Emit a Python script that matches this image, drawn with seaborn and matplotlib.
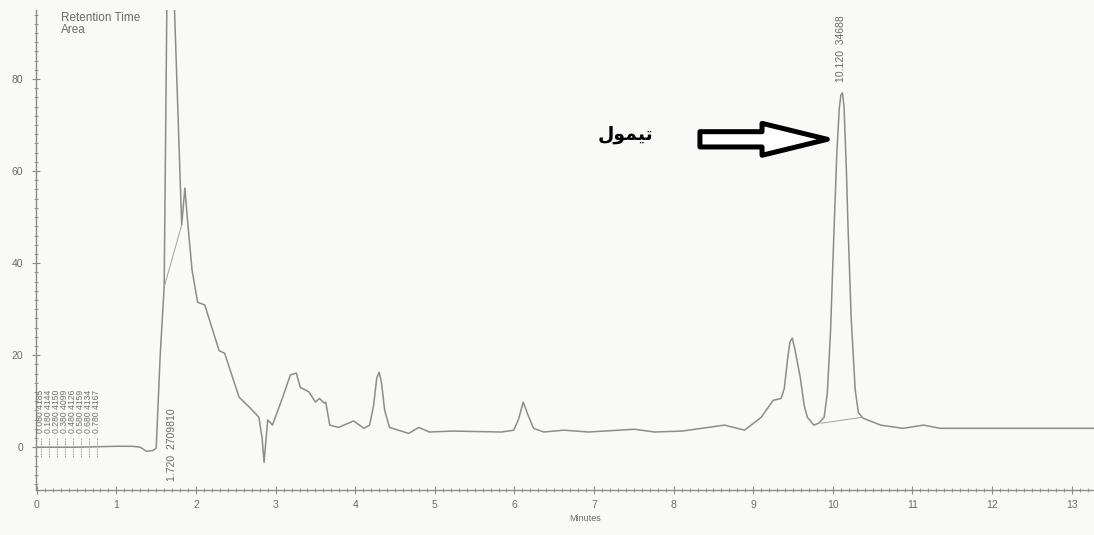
import matplotlib
matplotlib.use("Agg")
import matplotlib.pyplot as plt
from matplotlib.ticker import MultipleLocator
import seaborn as sns
import pandas as pd

# Detector trace (retention time in minutes, signal in mV)
minutes = [0.00, 0.50, 1.00, 1.20, 1.30, 1.38, 1.46, 1.50, 1.55, 1.60,
           1.68, 1.73, 1.82, 1.86, 1.89, 1.95, 2.02, 2.11, 2.29, 2.36,
           2.54, 2.71, 2.79, 2.83, 2.855, 2.90, 2.93, 2.96, 3.09, 3.185,
           3.26, 3.31, 3.42, 3.50, 3.55, 3.61, 3.63, 3.68, 3.79, 3.98,
           4.11, 4.18, 4.23, 4.27, 4.30, 4.33, 4.37, 4.43, 4.67, 4.80,
           4.93, 5.22, 5.84, 5.99, 6.05, 6.11, 6.17, 6.24, 6.37, 6.62,
           6.93, 7.51, 7.76, 8.10, 8.35, 8.64, 8.89, 9.10, 9.25, 9.35,
           9.39, 9.43, 9.46, 9.49, 9.52, 9.59, 9.64, 9.68, 9.76, 9.82,
           9.89, 9.93, 9.97, 10.00, 10.02, 10.05, 10.08, 10.10, 10.12, 10.14,
           10.17, 10.19, 10.23, 10.28, 10.32, 10.38, 10.60, 10.88, 11.14, 11.35,
           12.10, 13.30]
signal = [0.0, 0.0, 0.2, 0.2, 0.0, -0.9, -0.7, -0.2, 20.0, 34.8,
          180.0, 95.0, 48.3, 56.3, 50.0, 38.5, 31.5, 30.9, 21.0, 20.4,
          10.9, 8.0, 6.5, 2.0, -3.3, 5.9, 5.4, 4.8, 10.9, 15.7,
          16.1, 13.0, 12.0, 9.8, 10.6, 9.6, 9.8, 4.8, 4.3, 5.7,
          4.1, 4.8, 9.0, 15.0, 16.3, 14.0, 8.0, 4.3, 3.0, 4.3,
          3.3, 3.5, 3.3, 3.7, 6.0, 9.8, 7.0, 4.1, 3.3, 3.7,
          3.3, 3.9, 3.3, 3.5, 4.1, 4.8, 3.7, 6.5, 10.2, 10.6,
          12.8, 19.0, 22.8, 23.7, 21.5, 15.2, 9.0, 6.5, 4.8, 5.2,
          6.5, 11.7, 25.0, 40.0, 50.0, 64.0, 73.5, 76.5, 77.0, 74.0,
          60.0, 48.0, 28.0, 12.5, 7.5, 6.3, 4.8, 4.1, 4.8, 4.1,
          4.1, 4.1]

# Integration baselines drawn under the integrated peaks
baseline_minutes = [[1.60, 1.82], [9.85, 10.37]]
baseline_signal = [[34.8, 48.3], [5.2, 6.5]]

# Integrated peaks: retention time and area
peak_times = ["1.720", "10.120"]
peak_areas = ["2709810", "34688"]

# Small early events printed near the origin
early_times = ["0.080", "0.180", "0.280", "0.380", "0.480", "0.580", "0.680", "0.780"]
early_areas = ["4185", "4144", "4150", "4099", "4126", "4159", "4134", "4167"]

compound_name = "\uFEDD\uFEEE\uFEE4\uFEF4\uFE97"  # thymol, shaped glyphs in visual order

x_ticks = list(range(0, 14))
y_ticks = [0, 20, 40, 60, 80]

sns.set_theme(style="white")
plt.rcParams["font.family"] = ["Liberation Sans", "DejaVu Sans"]

trace_color = "#8c8c8c"
axis_color = "#8a8a8a"
text_color = "#6a6a6a"

fig = plt.figure(figsize=(10.94, 5.35), dpi=100)
fig.patch.set_facecolor("#f9f9f8")
ax = fig.add_axes([36 / 1094, 45 / 535, 1058 / 1094, 480 / 535])
ax.set_facecolor("#f9f9f8")

df = pd.DataFrame({"Minutes": minutes, "mV": signal})
sns.lineplot(data=df, x="Minutes", y="mV", ax=ax, color=trace_color,
             linewidth=1.1, estimator=None, sort=False)

for bx, by in zip(baseline_minutes, baseline_signal):
    ax.plot(bx, by, color="#a0a0a0", linewidth=0.7)

ax.set_xlim(-0.01, 13.28)
ax.set_ylim(-9.3, 95.0)

for side in ("top", "right"):
    ax.spines[side].set_visible(False)
for side in ("left", "bottom"):
    ax.spines[side].set_color(axis_color)
    ax.spines[side].set_linewidth(1.0)

ax.set_xticks(x_ticks)
ax.set_yticks(y_ticks)
ax.xaxis.set_minor_locator(MultipleLocator(0.1))
ax.yaxis.set_minor_locator(MultipleLocator(2))
ax.tick_params(axis="both", which="major", direction="inout", length=6, width=0.8,
               color=axis_color, labelcolor=text_color, labelsize=7.5)
ax.tick_params(axis="both", which="minor", direction="inout", length=3, width=0.6,
               color=axis_color)
ax.tick_params(axis="y", which="both", left=True, pad=6)
ax.tick_params(axis="x", which="both", bottom=True, pad=4)

ax.set_xlabel("Minutes", fontsize=6.5, color=text_color)
ax.xaxis.set_label_coords(0.519, -0.05)
ax.set_ylabel("")

# Report header
ax.text(0.30, 94.5, "Retention Time\nArea", fontsize=8.5, color=text_color,
        va="top", ha="left", linespacing=0.95)

# Peak annotations (time and area, printed vertically)
for t, a in zip(peak_times, peak_areas):
    y0 = -7.3 if float(t) < 5 else 79.3
    ax.text(float(t) - 0.02, y0, f"{t}  {a}", rotation=90, fontsize=7.5,
            color=text_color, ha="center", va="bottom")

for t, a in zip(early_times, early_areas):
    x = float(t) - 0.03
    ax.text(x, 3.0, f"{t} {a}", rotation=90, fontsize=6.2,
            color="#707070", ha="center", va="bottom")
    ax.vlines(x, -2.2, 2.2, color="#9a9a9a", linewidth=0.6,
              linestyles=(0, (2, 1)))

# Hollow arrow pointing at the thymol peak
ax.annotate("", xy=(9.93, 66.9), xytext=(8.33, 66.9),
            arrowprops=dict(arrowstyle="simple,head_length=47,head_width=23,tail_width=11",
                            mutation_scale=1, facecolor="white", edgecolor="black",
                            linewidth=3.6, shrinkA=0, shrinkB=0))
ax.text(7.40, 68.0, compound_name, fontsize=13.5, fontweight="bold",
        family=["DejaVu Sans"], color="black", ha="center", va="center")

fig.savefig("out.png", dpi=100, facecolor=fig.get_facecolor())
